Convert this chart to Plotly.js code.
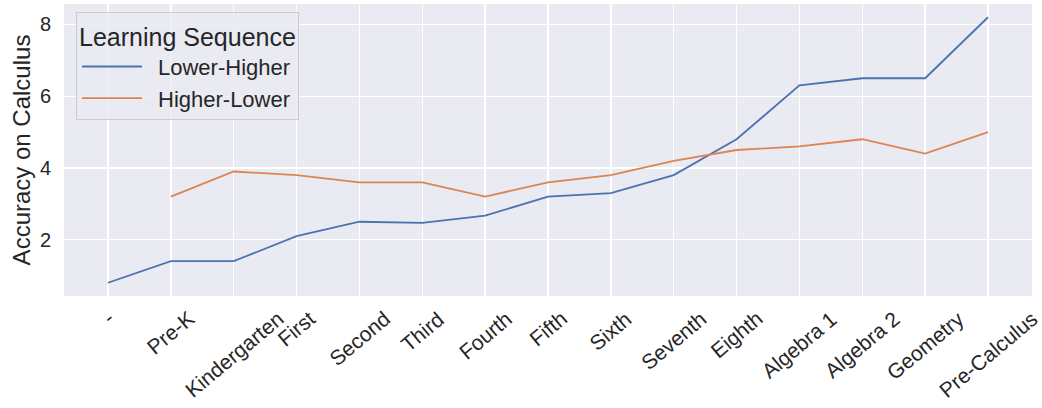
<!DOCTYPE html>
<html>
<head>
<meta charset="utf-8">
<script src="https://cdn.plot.ly/plotly-3.0.1.min.js"></script>
<style>html,body{margin:0;padding:0;background:#fff;}#chart{width:1042px;height:408px;}</style>
</head>
<body>
<div id="chart"></div>
<script>
const categories = ["-", "Pre-K", "Kindergarten", "First", "Second", "Third", "Fourth", "Fifth", "Sixth", "Seventh", "Eighth", "Algebra 1", "Algebra 2", "Geometry", "Pre-Calculus"];
const lowerHigher = [0.8, 1.4, 1.4, 2.1, 2.5, 2.47, 2.67, 3.2, 3.3, 3.8, 4.8, 6.3, 6.5, 6.5, 8.2];
const higherLower = [null, 3.2, 3.9, 3.8, 3.6, 3.6, 3.2, 3.6, 3.8, 4.2, 4.5, 4.6, 4.8, 4.4, 5.0];
const seriesNames = ["Lower-Higher", "Higher-Lower"];
const yTicks = [2, 4, 6, 8];

const FONT = "'Liberation Sans', Arial, sans-serif";
const TXT = "#262626";
const xIdx = categories.map((c, i) => i);

const traces = [
  {x: xIdx, y: lowerHigher, name: "\u2002" + seriesNames[0], type: "scatter", mode: "lines",
   line: {color: "#4c72b0", width: 1.8}},
  {x: xIdx, y: higherLower, name: "\u2002" + seriesNames[1], type: "scatter", mode: "lines",
   line: {color: "#dd8452", width: 1.8}}
];

const annotations = categories.map((c, i) => ({
  text: c, x: i, xref: "x", y: 0, yref: "paper",
  xanchor: "center", yanchor: "top", yshift: -8,
  textangle: -40, showarrow: false,
  font: {family: FONT, size: 21, color: TXT}
}));

const layout = {
  width: 1042, height: 408,
  margin: {l: 64, r: 10, t: 4, b: 112},
  paper_bgcolor: "#ffffff",
  plot_bgcolor: "#eaeaf2",
  showlegend: true,
  xaxis: {
    range: [-0.7, 14.7],
    tickvals: xIdx,
    showticklabels: false,
    showgrid: true, gridcolor: "#ffffff", gridwidth: 1.3,
    zeroline: false, showline: false, ticks: ""
  },
  yaxis: {
    range: [0.43, 8.57],
    tickvals: yTicks,
    ticktext: yTicks.map(String),
    showgrid: true, gridcolor: "#ffffff", gridwidth: 1.3,
    zeroline: false, showline: false, ticks: "",
    ticklabelstandoff: 12,
    tickfont: {family: FONT, size: 20, color: TXT},
    title: {text: "Accuracy on Calculus", font: {family: FONT, size: 24, color: TXT}, standoff: 2}
  },
  legend: {
    x: 0.0124, y: 0.972, xanchor: "left", yanchor: "top",
    bgcolor: "rgba(234,234,242,0.8)", bordercolor: "#cccccc", borderwidth: 1,
    font: {family: FONT, size: 22, color: TXT},
    title: {text: "Learning Sequence", font: {family: FONT, size: 25, color: TXT}},
    itemwidth: 60, tracegroupgap: 0
  },
  annotations: annotations
};

Plotly.newPlot("chart", traces, layout, {staticPlot: true, displayModeBar: false});
</script>
</body>
</html>
